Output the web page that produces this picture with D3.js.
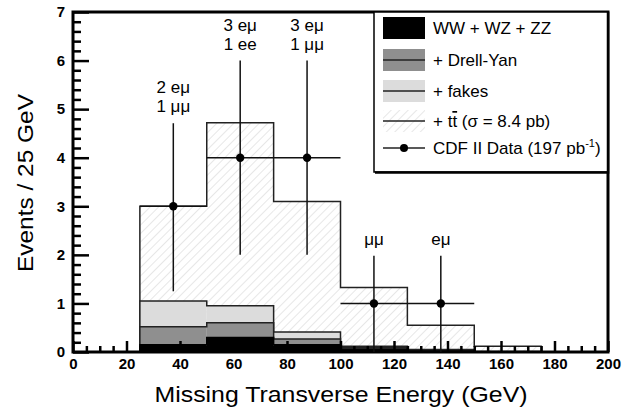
<!DOCTYPE html>
<html>
<head>
<meta charset="utf-8">
<script src="https://cdn.jsdelivr.net/npm/d3@7"></script>
<style>
  body { margin: 0; background: #fff; }
  svg { font-family: "Liberation Sans", Arial, sans-serif; }
</style>
</head>
<body>
<svg id="met" width="634" height="413"></svg>
<script>
// bin lower edges (GeV), 25 GeV wide
let binEdges = [0, 25, 50, 75, 100, 125, 150, 175];
// cumulative stacked heights
let wwTop     = [0, 0.15, 0.30, 0.15, 0.06, 0.02, 0, 0];
let dyTop     = [0, 0.52, 0.60, 0.27, 0.10, 0.04, 0, 0];
let fakesTop  = [0, 1.05, 0.95, 0.41, 0.12, 0.05, 0.01, 0];
let ttTop     = [0, 3.00, 4.72, 3.10, 1.33, 0.55, 0.12, 0];

// data points
let dataX   = [37.5, 62.5, 87.5, 112.5, 137.5];
let dataY   = [3, 4, 4, 1, 1];
let dataLo  = [1.25, 2.0, 2.0, 0, 0];
let dataHi  = [4.71, 6.0, 6.0, 1.98, 1.98];
let dataTag = [["2 eμ", "1 μμ"], ["3 eμ", "1 ee"], ["3 eμ", "1 μμ"], ["μμ"], ["eμ"]];

let xTicks = [0, 20, 40, 60, 80, 100, 120, 140, 160, 180, 200];
let yTicks = [0, 1, 2, 3, 4, 5, 6, 7];

let svg = d3.select("#met"),
    pLeft = 73, pRight = 608, pTop = 12, pBottom = 352;

let x = d3.scaleLinear().domain([0, 200]).range([pLeft, pRight]);
let y = d3.scaleLinear().domain([0, 7]).range([pBottom, pTop]);

// hatch pattern for ttbar
let defs = svg.append("defs");
let pat = defs.append("pattern")
    .attr("id", "hatch")
    .attr("patternUnits", "userSpaceOnUse")
    .attr("width", 6).attr("height", 6)
    .attr("patternTransform", "rotate(45)");
pat.append("rect").attr("width", 6).attr("height", 6).attr("fill", "#fff");
pat.append("line")
    .attr("x1", 0).attr("y1", 0).attr("x2", 0).attr("y2", 6)
    .attr("stroke", "#c4c4c4").attr("stroke-width", 0.8);

// step outline path from an array of bin heights
function stepPath(vals) {
    let p = d3.path();
    p.moveTo(x(binEdges[0]), y(0));
    vals.forEach(function(v, i) {
        p.lineTo(x(binEdges[i]), y(v));
        p.lineTo(x(binEdges[i] + 25), y(v));
    });
    p.lineTo(x(200), y(0));
    return p.toString();
}

function drawLayer(vals, fill, stroke) {
    svg.append("g").selectAll("rect")
        .data(vals)
        .enter().append("rect")
        .attr("x", function(d, i) { return x(binEdges[i]); })
        .attr("y", function(d) { return y(d); })
        .attr("width", x(25) - x(0))
        .attr("height", function(d) { return y(0) - y(d); })
        .attr("fill", fill);
    svg.append("path")
        .attr("d", stepPath(vals))
        .attr("fill", "none")
        .attr("stroke", stroke)
        .attr("stroke-width", 1.5);
}

drawLayer(ttTop, "url(#hatch)", "#222");
drawLayer(fakesTop, "#dcdcdc", "#222");
drawLayer(dyTop, "#8f8f8f", "#222");
drawLayer(wwTop, "#000", "#000");

// axes with inward ticks
function addAxis(gen, tr) {
    let g = svg.append("g").attr("transform", tr).call(gen);
    g.select(".domain").remove();
    g.selectAll("line").attr("stroke", "#000").attr("stroke-width", 2.5);
    return g;
}

let minorX = d3.range(0, 201, 5).filter(function(v) { return v % 20 != 0; });
addAxis(d3.axisBottom(x).tickValues(minorX).tickSize(-6).tickFormat(""), "translate(0," + pBottom + ")");
let gx = addAxis(d3.axisBottom(x).tickValues(xTicks).tickSize(-11).tickPadding(6).tickFormat(d3.format("d")),
    "translate(0," + pBottom + ")");
gx.selectAll("text").attr("font-size", "15px").attr("font-weight", "bold")
    .attr("fill", "#000").attr("font-family", "Liberation Sans, Arial");

let minorY = d3.range(0, 7.01, 0.2).filter(function(v) { return Math.abs(v - Math.round(v)) > 0.01; });
addAxis(d3.axisLeft(y).tickValues(minorY).tickSize(-8).tickFormat(""), "translate(" + pLeft + ",0)");
let gy = addAxis(d3.axisLeft(y).tickValues(yTicks).tickSize(-16).tickPadding(8).tickFormat(d3.format("d")),
    "translate(" + pLeft + ",0)");
gy.selectAll("text").attr("font-size", "15px").attr("font-weight", "bold")
    .attr("fill", "#000").attr("font-family", "Liberation Sans, Arial");

// frame
svg.append("rect")
    .attr("x", pLeft).attr("y", pTop)
    .attr("width", pRight - pLeft).attr("height", pBottom - pTop)
    .attr("fill", "none").attr("stroke", "#000").attr("stroke-width", 3);

// data points with error bars
let pts = svg.append("g");
dataX.forEach(function(d, i) {
    pts.append("line")
        .attr("x1", x(d)).attr("x2", x(d))
        .attr("y1", y(dataLo[i])).attr("y2", y(dataHi[i]))
        .attr("stroke", "#111").attr("stroke-width", 1.5);
    pts.append("line")
        .attr("x1", x(d - 12.5)).attr("x2", x(d + 12.5))
        .attr("y1", y(dataY[i])).attr("y2", y(dataY[i]))
        .attr("stroke", "#111").attr("stroke-width", 1.5);
    pts.append("circle")
        .attr("cx", x(d)).attr("cy", y(dataY[i]))
        .attr("r", 4.2).attr("fill", "#000");
    // channel label lines
    let tag = dataTag[i];
    tag.forEach(function(t, j) {
        pts.append("text")
            .attr("x", x(d))
            .attr("y", y(dataHi[i]) - 11 - (tag.length - 1 - j) * 19)
            .attr("text-anchor", "middle")
            .attr("font-size", "17px")
            .text(t);
    });
});

// legend
let lg = svg.append("g");
lg.append("rect")
    .attr("x", 374).attr("y", pTop)
    .attr("width", pRight - 374).attr("height", 172 - pTop)
    .attr("fill", "#fff").attr("stroke", "#000").attr("stroke-width", 1.5);
lg.append("path")
    .attr("d", "M375,172.5H" + pRight + "V" + pTop)
    .attr("fill", "none").attr("stroke", "#000").attr("stroke-width", 2.5);

let legItems = [
    { label: "WW + WZ + ZZ", fill: "#000", mid: false },
    { label: "+ Drell-Yan", fill: "#8f8f8f", mid: true },
    { label: "+ fakes", fill: "#dcdcdc", mid: true },
    { label: "tt", fill: "url(#hatch)", mid: true },
    { label: "data", fill: null, mid: true }
];
let legY = [28, 60, 91, 121, 148];

legItems.forEach(function(d, i) {
    let cy = legY[i];
    if (d.fill) {
        lg.append("rect")
            .attr("x", 383).attr("y", cy - 11)
            .attr("width", 42).attr("height", 22)
            .attr("fill", d.fill);
    }
    if (d.mid) {
        lg.append("line")
            .attr("x1", 383).attr("x2", 425)
            .attr("y1", cy).attr("y2", cy)
            .attr("stroke", "#222").attr("stroke-width", 1.3);
    }
    let t = lg.append("text")
        .attr("x", 433).attr("y", cy + 6)
        .attr("font-size", "17px");
    if (d.label == "tt") {
        t.append("tspan").text("+ t");
        t.append("tspan").text("t").attr("text-decoration", "overline");
        t.append("tspan").text(" (σ  = 8.4 pb)");
    } else if (d.label == "data") {
        lg.append("circle").attr("cx", 404).attr("cy", cy).attr("r", 4).attr("fill", "#000");
        t.append("tspan").text("CDF II Data (197 pb");
        t.append("tspan").text("-1").attr("font-size", "11px").attr("dy", -7);
        t.append("tspan").text(")").attr("dy", 7);
    } else {
        t.text(d.label);
    }
});

// axis titles
svg.append("text")
    .attr("x", 341).attr("y", 402)
    .attr("text-anchor", "middle")
    .attr("font-size", "22px")
    .attr("textLength", 373)
    .attr("lengthAdjust", "spacingAndGlyphs")
    .text("Missing Transverse Energy (GeV)");

svg.append("text")
    .attr("transform", "translate(33,183) rotate(-90)")
    .attr("text-anchor", "middle")
    .attr("font-size", "22px")
    .attr("textLength", 178)
    .attr("lengthAdjust", "spacingAndGlyphs")
    .text("Events / 25 GeV");
</script>
</body>
</html>
